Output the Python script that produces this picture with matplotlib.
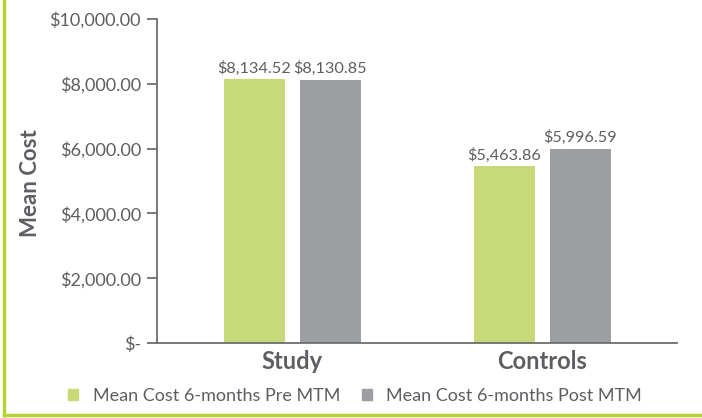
import numpy as np
import matplotlib.pyplot as plt
from matplotlib.lines import Line2D
from matplotlib.patches import Patch

groups = ["Study", "Controls"]
series_names = ["Mean Cost 6-months Pre MTM", "Mean Cost 6-months Post MTM"]
pre_mtm = [8134.52, 5463.86]
post_mtm = [8130.85, 5996.59]
y_ticks = [0, 2000, 4000, 6000, 8000, 10000]
y_tick_labels = ["$-", "$2,000.00", "$4,000.00", "$6,000.00", "$8,000.00", "$10,000.00"]

green = "#c8d97a"
gray = "#9d9ea2"
text_col = "#5d5e62"
axis_col = "#6d6e71"

plt.rcParams['font.family'] = ['Lato', 'DejaVu Sans']

fig = plt.figure(figsize=(7.02, 4.18), dpi=100)
ax = fig.add_axes([157 / 702, 1 - 343 / 418, 520 / 702, 324 / 418])

x = np.arange(len(groups))
w = 0.244
off = 0.152
b1 = ax.bar(x - off, pre_mtm, w, color=green)
b2 = ax.bar(x + off, post_mtm, w, color=gray)

for bars, vals in [(b1, pre_mtm), (b2, post_mtm)]:
    for b, v in zip(bars, vals):
        ax.text(b.get_x() + b.get_width() / 2, v + 110, "${:,.2f}".format(v),
                ha="center", va="bottom", fontsize=11.7, color=text_col)

ax.set_xlim(-0.54, 1.54)
ax.set_ylim(0, 10000)
ax.set_yticks(y_ticks)
ax.set_yticklabels(y_tick_labels)
ax.set_xticks(x)
ax.set_xticklabels(groups, fontsize=17, fontweight="bold", color=text_col)
ax.tick_params(axis="x", length=0, pad=5)
ax.tick_params(axis="y", direction="out", length=7, width=1.3, color=axis_col,
               labelsize=13, labelcolor=text_col, pad=4.5)
for s in ["top", "right"]:
    ax.spines[s].set_visible(False)
for s in ["left", "bottom"]:
    ax.spines[s].set_color(axis_col)
    ax.spines[s].set_linewidth(1.3)
ax.set_ylabel("Mean Cost", fontsize=16, fontweight="bold", color=text_col)
ax.yaxis.set_label_coords((41 - 157) / 520, (343 - 183) / 324)

handles = [Patch(color=green), Patch(color=gray)]
fig.legend(handles, series_names, loc="center", bbox_to_anchor=(355 / 702, 1 - 396 / 418),
           ncol=2, frameon=False, fontsize=13, labelcolor=text_col,
           handlelength=0.55, handleheight=0.55, columnspacing=1.2, handletextpad=0.8)

# green frame on left and bottom
fig.add_artist(Line2D([4 / 702, 4 / 702], [1 - 415 / 418, 1], transform=fig.transFigure,
                      color="#b5d334", linewidth=2.5))
fig.add_artist(Line2D([4 / 702, 1], [1 - 415 / 418, 1 - 415 / 418], transform=fig.transFigure,
                      color="#b5d334", linewidth=2.5))

fig.savefig("out.png", dpi=100)
